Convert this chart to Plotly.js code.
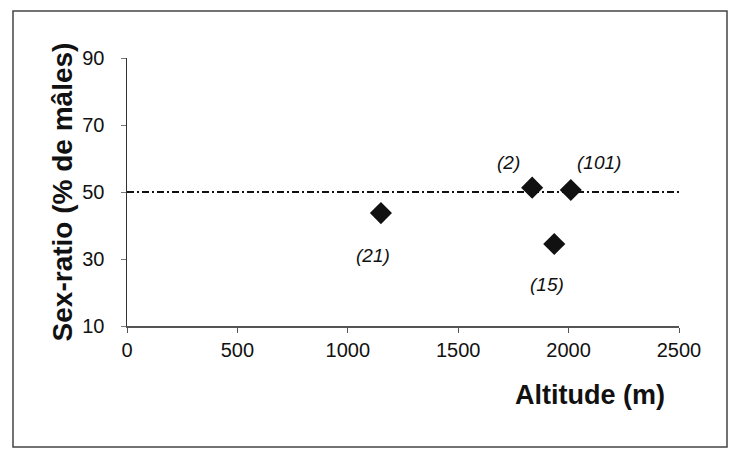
<!DOCTYPE html>
<html>
<head>
<meta charset="utf-8">
<script src="https://cdn.plot.ly/plotly-3.0.1.min.js"></script>
<style>
html,body{margin:0;padding:0;background:#fff;}
#chart{width:729px;height:453px;}
</style>
</head>
<body>
<div id="chart"></div>
<script>
// Data
const altitude = [1150, 1835, 2010, 1935];
const sexRatio = [43.7, 51.3, 50.6, 34.5];
const sampleLabels = ["(21)", "(2)", "(101)", "(15)"];
const labelShiftX = [-8, -24, 28, -7];
const labelShiftY = [-42, 25, 27, -41];
const refLineX = [0, 2500];
const refLineY = [50, 50];
const xTicks = [0, 500, 1000, 1500, 2000, 2500];
const yTicks = [10, 30, 50, 70, 90];

const font = "'Liberation Sans', Arial, sans-serif";

const traces = [
  {
    x: refLineX, y: refLineY, mode: "lines", type: "scatter",
    line: {color: "#111", width: 2, dash: "7px,3px,2px,3px"},
    hoverinfo: "skip", showlegend: false
  },
  {
    x: altitude, y: sexRatio, mode: "markers", type: "scatter",
    marker: {symbol: "diamond", size: 17, color: "#111"},
    showlegend: false
  }
];

const L = 127, R = 50, T = 58, B = 127, W = 729, H = 453;

const annotations = altitude.map((a, i) => ({
  x: a, y: sexRatio[i], xref: "x", yref: "y",
  text: "<i>" + sampleLabels[i] + "</i>", showarrow: false,
  xshift: labelShiftX[i], yshift: labelShiftY[i],
  xanchor: "center", yanchor: "middle",
  font: {family: font, size: 19, color: "#111"}
}));
annotations.push({
  x: (590 - L) / (W - L - R), y: (H - B - 395) / (H - T - B),
  xref: "paper", yref: "paper", text: "<b>Altitude (m)</b>",
  xanchor: "center", yanchor: "middle",
  showarrow: false, font: {family: font, size: 27, color: "#111"}
});

const layout = {
  width: W, height: H,
  margin: {l: L, r: R, t: T, b: B},
  paper_bgcolor: "#fff", plot_bgcolor: "#fff",
  font: {family: font, color: "#111"},
  xaxis: {
    range: [0, 2500], tickvals: xTicks, ticks: "outside", ticklen: 5,
    tickcolor: "#555", showline: true, linecolor: "#555", linewidth: 1.5,
    ticklabelstandoff: 0,
    showgrid: false, zeroline: false, tickfont: {family: font, size: 20, color: "#111"}
  },
  yaxis: {
    range: [10, 90], tickvals: yTicks, ticks: "outside", ticklen: 5,
    tickcolor: "#777", showline: true, linecolor: "#333", linewidth: 1.5,
    ticklabelstandoff: 12,
    showgrid: false, zeroline: false, tickfont: {family: font, size: 20, color: "#111"},
    title: {text: "<b>Sex-ratio (% de mâles)</b>", font: {family: font, size: 28, color: "#111"}, standoff: 1}
  },
  annotations: annotations,
  shapes: [{
    type: "rect", xref: "paper", yref: "paper",
    x0: (13 - L) / (W - L - R), x1: (727 - L) / (W - L - R),
    y0: (H - B - 447) / (H - T - B), y1: (H - B - 11) / (H - T - B),
    line: {color: "#444", width: 1.5}, fillcolor: "rgba(0,0,0,0)"
  }]
};

Plotly.newPlot("chart", traces, layout, {displayModeBar: false, staticPlot: true});
</script>
</body>
</html>
